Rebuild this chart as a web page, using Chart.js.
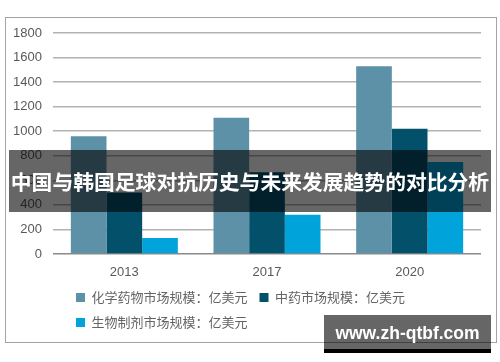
<!DOCTYPE html>
<html>
<head>
<meta charset="utf-8">
<script src="https://cdn.jsdelivr.net/npm/chart.js@4/dist/chart.umd.min.js"></script>
<style>
  body { margin: 0; background: #fff; }
  .wrap { position: relative; width: 500px; height: 362px; overflow: hidden; }
  .frame { position: absolute; left: 5px; top: 17px; width: 492px; height: 326px; box-sizing: border-box; border: 1px solid #a3a3a3; }
  canvas { position: absolute; left: 0; top: 0; }
  .band { position: absolute; left: 9px; top: 150px; width: 482px; height: 62px; background: rgba(0,0,0,0.6);
    color: #fff; font: bold 20.8px "Noto Sans CJK SC", sans-serif; line-height: 62px; text-align: center; white-space: nowrap; }
  .mark { position: absolute; left: 324px; top: 315px; width: 167px; height: 34px; background: rgba(0,0,0,0.6);
    border-bottom: 4px solid #000; color: #fff; font: bold 17.5px "Liberation Sans", Arial, sans-serif; line-height: 36px; text-align: center; }
</style>
</head>
<body>
<div class="wrap">
  <div class="frame"></div>
  <canvas id="marketChart" width="500" height="362"></canvas>
  <div class="band">中国与韩国足球对抗历史与未来发展趋势的对比分析</div>
  <div class="mark">www.zh-qtbf.com</div>
</div>
<script>
//DATA
let years = ["2013", "2017", "2020"];
let chemValues = [960, 1110, 1530];
let tcmValues = [500, 665, 1020];
let bioValues = [130, 320, 750];
let seriesNames = [
  "化学药物市场规模：亿美元",
  "中药市场规模：亿美元",
  "生物制剂市场规模：亿美元",
];

//move legend rows so they start under the plot like the original
let legendShift = {
  id: "legendShift",
  afterLayout(chart) {
    chart.legend.left += 64;
  },
};

let ctx = document.getElementById("marketChart").getContext("2d");
new Chart(ctx, {
  type: "bar",
  data: {
    labels: years,
    datasets: [
      { label: seriesNames[0], data: chemValues, backgroundColor: "#5d91a8" },
      { label: seriesNames[1], data: tcmValues, backgroundColor: "#03506b" },
      { label: seriesNames[2], data: bioValues, backgroundColor: "#00a3da" },
    ],
  },
  options: {
    responsive: false,
    animation: false,
    layout: { padding: { left: 0, right: 19, top: 33, bottom: 23 } },
    datasets: { bar: { categoryPercentage: 0.75, barPercentage: 1 } },
    plugins: {
      tooltip: { enabled: false },
      legend: {
        position: "bottom",
        align: "start",
        labels: {
          boxWidth: 9,
          boxHeight: 9,
          padding: 12,
          color: "#646464",
          font: { family: "'Noto Sans CJK SC', sans-serif", size: 13 },
        },
      },
    },
    scales: {
      x: {
        grid: { display: false },
        border: { display: false },
        ticks: {
          padding: 3,
          color: "#595959",
          font: { family: "'Liberation Sans', Arial, sans-serif", size: 13 },
        },
        afterFit(scale) {
          scale.height = 25;
        },
      },
      y: {
        min: 0,
        max: 1800,
        border: { display: false },
        grid: {
          drawTicks: false,
          lineWidth: 1.5,
          color: (c) => (c.tick && c.tick.value === 0 ? "#8a8a8a" : "#b2b2b2"),
        },
        ticks: {
          stepSize: 200,
          padding: 11,
          color: "#595959",
          font: { family: "'Liberation Sans', Arial, sans-serif", size: 13 },
          callback: (v) => String(v),
        },
        afterFit(scale) {
          scale.width = 53;
        },
      },
    },
  },
  plugins: [legendShift],
});
</script>
</body>
</html>
